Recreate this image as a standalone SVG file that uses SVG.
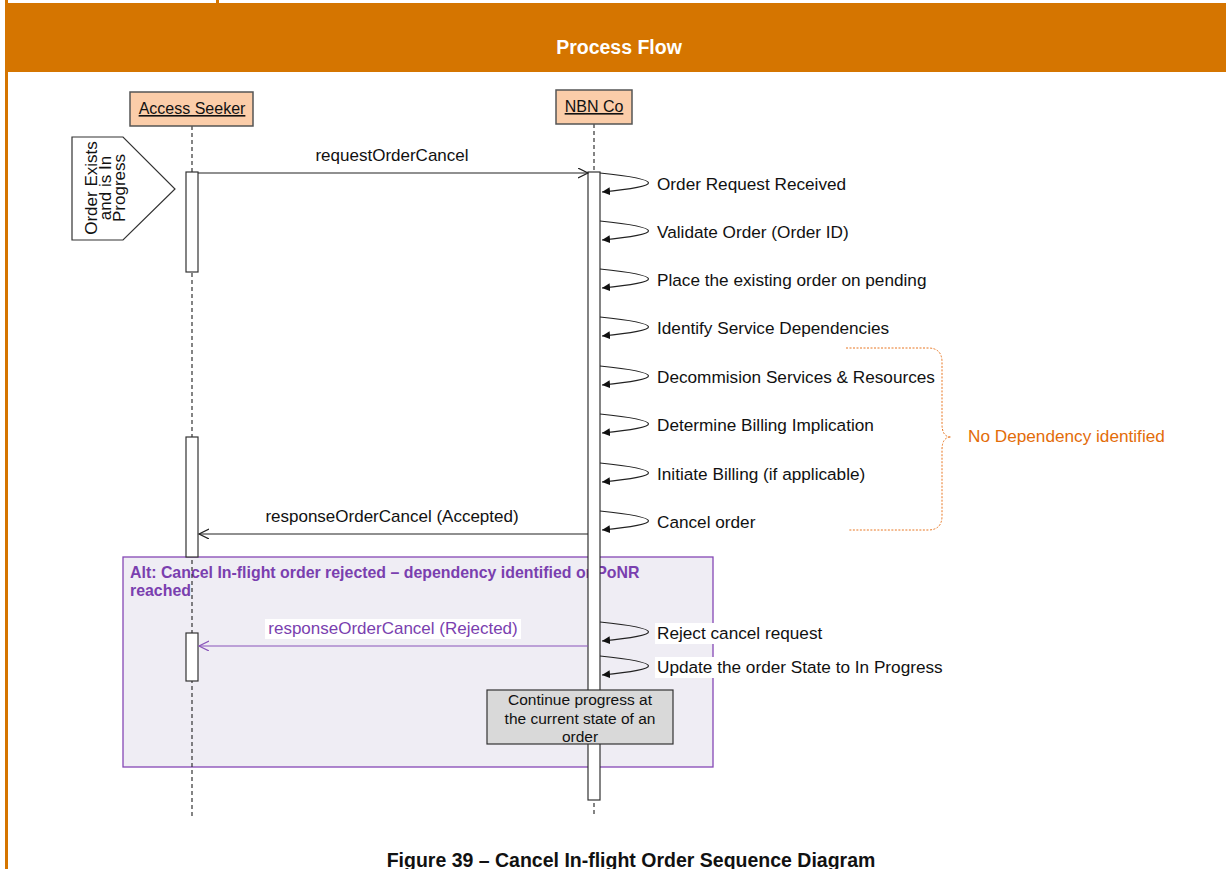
<svg xmlns="http://www.w3.org/2000/svg" width="1226" height="869" viewBox="0 0 1226 869">
<defs>
<style>
.t{font-family:"Liberation Sans",Arial,sans-serif;font-size:17.2px;fill:#111}
.lbl{font-family:"Liberation Sans",Arial,sans-serif;font-size:17px;fill:#111}
.life{stroke:#333;stroke-width:1.2;stroke-dasharray:4,3;fill:none}
.bar{fill:#fff;stroke:#333;stroke-width:1.2}
.msg{stroke:#222;stroke-width:1.2;fill:none}
.loop{stroke:#222;stroke-width:1.2;fill:none;marker-end:url(#fill)}
.actor{fill:#FBCDA9;stroke:#555;stroke-width:1.5}
</style>
<marker id="open" markerWidth="12" markerHeight="12" refX="10" refY="5" orient="auto" markerUnits="userSpaceOnUse">
<path d="M0,0 L10,5 L0,10" fill="none" stroke="#222" stroke-width="1.2"/>
</marker>
<marker id="openp" markerWidth="12" markerHeight="12" refX="10" refY="5" orient="auto" markerUnits="userSpaceOnUse">
<path d="M0,0 L10,5 L0,10" fill="none" stroke="#8A55BA" stroke-width="1.2"/>
</marker>
<marker id="fill" markerWidth="10" markerHeight="10" refX="8" refY="4" orient="auto" markerUnits="userSpaceOnUse">
<path d="M0,0 L8,4 L0,8 Z" fill="#111"/>
</marker>
</defs>
<rect width="1226" height="869" fill="#fff"/>
<!-- page frame -->
<g id="page">
<rect x="5" y="0" width="3" height="869" fill="#D57500"/>
<rect x="216" y="0" width="3" height="4" fill="#D57500"/>
<rect x="5" y="3" width="1221" height="69" fill="#D57500"/>
<text x="619" y="54" text-anchor="middle" style="font-family:'Liberation Sans',Arial,sans-serif;font-size:19.5px;font-weight:bold;fill:#fff">Process Flow</text>
</g>
<!-- alt frame -->
<g id="alt">
<rect x="123" y="557" width="590" height="210" fill="#EFEDF4" stroke="#8548B5" stroke-width="1.3"/>
<text x="130" y="578" style="font-family:'Liberation Sans',Arial,sans-serif;font-size:15.9px;font-weight:bold;fill:#7A3FAF">Alt: Cancel In-flight order rejected – dependency identified or PoNR</text>
<text x="130" y="596" style="font-family:'Liberation Sans',Arial,sans-serif;font-size:15.9px;font-weight:bold;fill:#7A3FAF">reached</text>
</g>
<!-- actors -->
<g id="access-seeker">
<line class="life" x1="192" y1="126" x2="192" y2="816"/>
<rect class="actor" x="130" y="92" width="123" height="34"/>
<text x="192" y="114" text-anchor="middle" style="font-family:'Liberation Sans',Arial,sans-serif;font-size:16px;fill:#111;text-decoration:underline">Access Seeker</text>
<rect class="bar" x="186" y="172" width="12" height="100"/>
<rect class="bar" x="186" y="437" width="12" height="120"/>
<rect class="bar" x="186" y="633" width="12" height="48"/>
</g>
<g id="nbn-co">
<line class="life" x1="594" y1="124" x2="594" y2="816"/>
<rect class="actor" x="556" y="90" width="76" height="34"/>
<text x="594" y="112" text-anchor="middle" style="font-family:'Liberation Sans',Arial,sans-serif;font-size:16px;fill:#111;text-decoration:underline">NBN Co</text>
<rect class="bar" x="588" y="172" width="12" height="628"/>
</g>
<!-- precondition note -->
<g id="precondition">
<path d="M72,137 L123,137 L175,189 L123,240 L72,240 Z" fill="#fff" stroke="#333" stroke-width="1.2"/>
<g transform="translate(0,188)" style="font-family:'Liberation Sans',Arial,sans-serif;font-size:17px;fill:#111">
<text transform="translate(97,0) rotate(-90)" text-anchor="middle">Order Exists</text>
<text transform="translate(111,0) rotate(-90)" text-anchor="middle">and is In</text>
<text transform="translate(125,0) rotate(-90)" text-anchor="middle">Progress</text>
</g>
</g>
<!-- connectors -->
<g id="connectors">
<line class="msg" x1="198" y1="173" x2="588" y2="173" marker-end="url(#open)"/>
<text class="lbl" x="392" y="161" text-anchor="middle">requestOrderCancel</text>
<line class="msg" x1="588" y1="534" x2="199" y2="534" marker-end="url(#open)"/>
<text class="lbl" x="392" y="522" text-anchor="middle">responseOrderCancel (Accepted)</text>
<line x1="588" y1="646" x2="199" y2="646" stroke="#8A55BA" stroke-width="1.2" marker-end="url(#openp)"/>
<rect x="265" y="619" width="256" height="20" fill="#fff"/>
<text x="393" y="634" text-anchor="middle" style="font-family:'Liberation Sans',Arial,sans-serif;font-size:17px;fill:#7A3FAF">responseOrderCancel (Rejected)</text>
<path class="loop" d="M600,173 Q696,183 602,192"/>
<path class="loop" d="M600,221 Q696,231 602,240"/>
<path class="loop" d="M600,269 Q696,279 602,288"/>
<path class="loop" d="M600,317 Q696,327 602,336"/>
<path class="loop" d="M600,366 Q696,376 602,385"/>
<path class="loop" d="M600,414 Q696,424 602,433"/>
<path class="loop" d="M600,463 Q696,473 602,482"/>
<path class="loop" d="M600,511 Q696,521 602,530"/>
<path class="loop" d="M600,622 Q696,632 602,641"/>
<path class="loop" d="M600,656 Q696,666 602,675"/>
<text class="t" x="657" y="190">Order Request Received</text>
<text class="t" x="657" y="238">Validate Order (Order ID)</text>
<text class="t" x="657" y="286">Place the existing order on pending</text>
<text class="t" x="657" y="334">Identify Service Dependencies</text>
<text class="t" x="657" y="383">Decommision Services &amp; Resources</text>
<text class="t" x="657" y="431">Determine Billing Implication</text>
<text class="t" x="657" y="480">Initiate Billing (if applicable)</text>
<text class="t" x="657" y="528">Cancel order</text>
<rect x="655" y="623" width="174" height="21" fill="#fff"/>
<text class="t" x="657" y="639">Reject cancel request</text>
<rect x="655" y="657" width="294" height="21" fill="#fff"/>
<text class="t" x="657" y="673">Update the order State to In Progress</text>
</g>
<!-- brace -->
<g id="no-dependency">
<path d="M846,348 L928,348 Q942,348 942,362 L942,424 Q942,437 951,437 Q942,437 942,450 L942,516 Q942,530 928,530 L848,530" fill="none" stroke="#E87722" stroke-width="1" stroke-dasharray="2,1.5"/>
<text x="968" y="442" style="font-family:'Liberation Sans',Arial,sans-serif;font-size:17.2px;fill:#E36C09">No Dependency identified</text>
</g>
<!-- continuation note -->
<g id="continue-note">
<rect x="487" y="690" width="186" height="54" fill="#D9D9D9" stroke="#333" stroke-width="1.2"/>
<g style="font-family:'Liberation Sans',Arial,sans-serif;font-size:15.5px;fill:#111" text-anchor="middle">
<text x="580" y="705">Continue progress at</text>
<text x="580" y="724">the current state of an</text>
<text x="580" y="742">order</text>
</g>
</g>
<!-- caption -->
<text x="631" y="867" text-anchor="middle" style="font-family:'Liberation Sans',Arial,sans-serif;font-size:19.5px;font-weight:bold;fill:#111">Figure 39 – Cancel In-flight Order Sequence Diagram</text>
</svg>
